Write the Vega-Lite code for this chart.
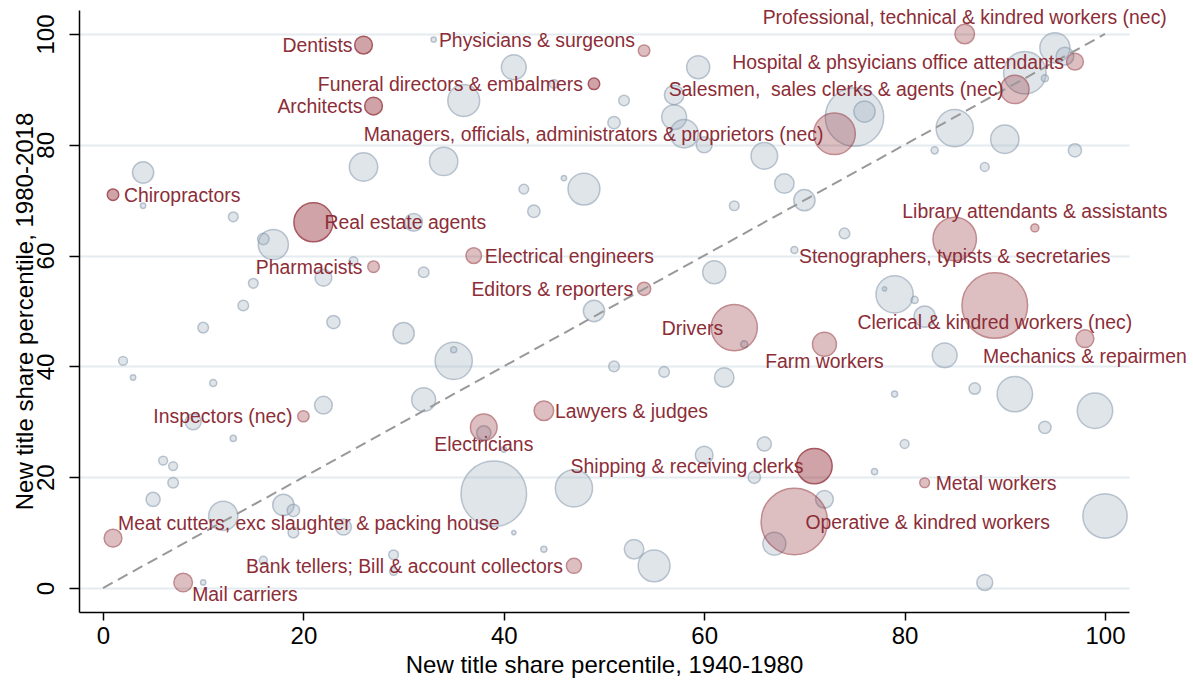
{
  "$schema": "https://vega.github.io/schema/vega-lite/v6.json",
  "autosize": {"type": "none"},
  "padding": {"left": 79, "top": 10, "right": 64, "bottom": 69},
  "width": 1050,
  "height": 602,
  "config": {"view": {"stroke": null}, "font": "Liberation Sans"},
  "datasets": {
    "diag": [{"x": 0, "y": 0}, {"x": 100, "y": 100}],
    "gray": [
      {"x": 33, "y": 99, "w": 9}, {"x": 36, "y": 88, "w": 324}, {"x": 26, "y": 76, "w": 256}, {"x": 34, "y": 77, "w": 256},
      {"x": 4, "y": 75, "w": 144}, {"x": 4, "y": 69, "w": 9}, {"x": 41, "y": 94, "w": 196}, {"x": 45, "y": 91, "w": 25},
      {"x": 52, "y": 88, "w": 36}, {"x": 51, "y": 84, "w": 49}, {"x": 59.4, "y": 94, "w": 169}, {"x": 57, "y": 89, "w": 121},
      {"x": 57, "y": 85, "w": 196}, {"x": 58, "y": 82, "w": 256}, {"x": 60, "y": 80, "w": 81}, {"x": 46, "y": 74, "w": 9},
      {"x": 42, "y": 72, "w": 30}, {"x": 48, "y": 72, "w": 324}, {"x": 43, "y": 68, "w": 49}, {"x": 66, "y": 78, "w": 225},
      {"x": 68, "y": 73, "w": 121}, {"x": 70, "y": 70, "w": 144}, {"x": 63, "y": 69, "w": 30}, {"x": 75, "y": 85, "w": 1089},
      {"x": 76, "y": 86, "w": 144}, {"x": 85, "y": 83, "w": 441}, {"x": 90, "y": 81, "w": 256}, {"x": 83, "y": 79, "w": 16},
      {"x": 97, "y": 79, "w": 56}, {"x": 88, "y": 76, "w": 25}, {"x": 92, "y": 93, "w": 576}, {"x": 95, "y": 97.5, "w": 289},
      {"x": 96, "y": 96, "w": 100}, {"x": 94, "y": 92, "w": 16}, {"x": 13, "y": 67, "w": 30}, {"x": 17, "y": 62, "w": 289},
      {"x": 16, "y": 63, "w": 42}, {"x": 31, "y": 66, "w": 100}, {"x": 25, "y": 59, "w": 25}, {"x": 22, "y": 56, "w": 90},
      {"x": 32, "y": 57, "w": 36}, {"x": 15, "y": 55, "w": 30}, {"x": 14, "y": 51, "w": 36}, {"x": 23, "y": 48, "w": 56},
      {"x": 10, "y": 47, "w": 36}, {"x": 30, "y": 46, "w": 144}, {"x": 35, "y": 41, "w": 441}, {"x": 35, "y": 43, "w": 12},
      {"x": 2, "y": 41, "w": 25}, {"x": 3, "y": 38, "w": 9}, {"x": 11, "y": 37, "w": 16}, {"x": 32, "y": 34, "w": 182},
      {"x": 22, "y": 33, "w": 100}, {"x": 61, "y": 57, "w": 169}, {"x": 69, "y": 61, "w": 16}, {"x": 49, "y": 50, "w": 144},
      {"x": 64, "y": 44, "w": 16}, {"x": 51, "y": 40, "w": 36}, {"x": 56, "y": 39, "w": 36}, {"x": 62, "y": 38, "w": 121},
      {"x": 74, "y": 64, "w": 36}, {"x": 79, "y": 53, "w": 441}, {"x": 78, "y": 54, "w": 6}, {"x": 81, "y": 52, "w": 16},
      {"x": 82, "y": 49, "w": 144}, {"x": 84, "y": 42, "w": 196}, {"x": 79, "y": 35, "w": 12}, {"x": 87, "y": 36, "w": 42},
      {"x": 91, "y": 35, "w": 400}, {"x": 99, "y": 32, "w": 400}, {"x": 9, "y": 30, "w": 81}, {"x": 13, "y": 27, "w": 12},
      {"x": 6, "y": 23, "w": 25}, {"x": 7, "y": 22, "w": 25}, {"x": 7, "y": 19, "w": 36}, {"x": 5, "y": 16, "w": 64},
      {"x": 12, "y": 13, "w": 272}, {"x": 18, "y": 15, "w": 144}, {"x": 19, "y": 14, "w": 49}, {"x": 19, "y": 10, "w": 36},
      {"x": 24, "y": 11, "w": 81}, {"x": 16, "y": 5, "w": 20}, {"x": 29, "y": 6, "w": 30}, {"x": 29, "y": 3, "w": 20},
      {"x": 10, "y": 1, "w": 9}, {"x": 38, "y": 28, "w": 64}, {"x": 40, "y": 25, "w": 9}, {"x": 39, "y": 17, "w": 1369},
      {"x": 41, "y": 10, "w": 6}, {"x": 44, "y": 7, "w": 12}, {"x": 47, "y": 18, "w": 441}, {"x": 53, "y": 7, "w": 121},
      {"x": 55, "y": 4, "w": 324}, {"x": 60, "y": 24, "w": 100}, {"x": 66, "y": 26, "w": 64}, {"x": 65, "y": 20, "w": 49},
      {"x": 72, "y": 16, "w": 100}, {"x": 67, "y": 8, "w": 169}, {"x": 80, "y": 26, "w": 25}, {"x": 77, "y": 21, "w": 12},
      {"x": 94, "y": 29, "w": 49}, {"x": 100, "y": 13, "w": 625}, {"x": 88, "y": 1, "w": 81}
    ],
    "red": [
      {"name": "Dentists", "x": 26, "y": 98, "w": 100, "tone": "dark", "pos": 9},
      {"name": "Physicians & surgeons", "x": 54, "y": 97, "w": 42, "tone": "light", "pos": 10},
      {"name": "Professional, technical & kindred workers (nec)", "x": 86, "y": 100, "w": 121, "tone": "light", "pos": 12},
      {"name": "Hospital & phsyicians office attendants", "x": 97, "y": 95, "w": 90, "tone": "light", "pos": 9},
      {"name": "Funeral directors & embalmers", "x": 49, "y": 91, "w": 42, "tone": "dark", "pos": 9},
      {"name": "Salesmen,\u00a0 sales clerks & agents (nec)", "x": 91, "y": 90, "w": 256, "tone": "light", "pos": 9},
      {"name": "Architects", "x": 27, "y": 87, "w": 100, "tone": "dark", "pos": 9},
      {"name": "Managers, officials, administrators & proprietors (nec)", "x": 73, "y": 82, "w": 552, "tone": "light", "pos": 9},
      {"name": "Chiropractors", "x": 1, "y": 71, "w": 42, "tone": "dark", "pos": 3},
      {"name": "Real estate agents", "x": 21, "y": 66, "w": 484, "tone": "dark", "pos": 3},
      {"name": "Library attendants & assistants", "x": 93, "y": 65, "w": 20, "tone": "light", "pos": 12},
      {"name": "Stenographers, typists & secretaries", "x": 85, "y": 63, "w": 600, "tone": "light", "pos": 6},
      {"name": "Electrical engineers", "x": 37, "y": 60, "w": 77, "tone": "light", "pos": 3},
      {"name": "Pharmacists", "x": 27, "y": 58, "w": 42, "tone": "light", "pos": 9},
      {"name": "Editors & reporters", "x": 54, "y": 54, "w": 56, "tone": "light", "pos": 9},
      {"name": "Clerical & kindred workers (nec)", "x": 89, "y": 51, "w": 1369, "tone": "light", "pos": 6},
      {"name": "Drivers", "x": 63, "y": 47, "w": 676, "tone": "light", "pos": 9},
      {"name": "Mechanics & repairmen", "x": 98, "y": 45, "w": 100, "tone": "light", "pos": 6},
      {"name": "Farm workers", "x": 72, "y": 44, "w": 182, "tone": "light", "pos": 6},
      {"name": "Inspectors (nec)", "x": 20, "y": 31, "w": 40, "tone": "light", "pos": 9},
      {"name": "Lawyers & judges", "x": 44, "y": 32, "w": 121, "tone": "light", "pos": 3},
      {"name": "Electricians", "x": 38, "y": 29, "w": 225, "tone": "light", "pos": 6},
      {"name": "Shipping & receiving clerks", "x": 71, "y": 22, "w": 400, "tone": "dark", "pos": 9},
      {"name": "Metal workers", "x": 82, "y": 19, "w": 30, "tone": "light", "pos": 3},
      {"name": "Operative & kindred workers", "x": 69, "y": 12, "w": 1406, "tone": "light", "pos": 3},
      {"name": "Meat cutters, exc slaughter & packing house", "x": 1, "y": 9, "w": 100, "tone": "light", "pos": 1},
      {"name": "Bank tellers; Bill & account collectors", "x": 47, "y": 4, "w": 72, "tone": "light", "pos": 9},
      {"name": "Mail carriers", "x": 8, "y": 1, "w": 110, "tone": "light", "pos": 4}
    ]
  },
  "encoding": {
    "x": {
      "field": "x", "type": "quantitative",
      "scale": {"domain": [-2.395, 102.395], "nice": false, "zero": false},
      "axis": {
        "title": "New title share percentile, 1940-1980",
        "values": [0, 20, 40, 60, 80, 100], "grid": false,
        "domainColor": "black", "domainWidth": 1.5, "tickColor": "black", "tickWidth": 1.5, "tickSize": 8,
        "labelFontSize": 24, "labelColor": "black", "labelPadding": 4, "labelFont": "Liberation Sans",
        "titleFontSize": 24, "titleFontWeight": "normal", "titleColor": "black", "titlePadding": 5, "titleFont": "Liberation Sans"
      }
    },
    "y": {
      "field": "y", "type": "quantitative",
      "scale": {"domain": [-4.332, 104.332], "nice": false, "zero": false},
      "axis": {
        "title": "New title share percentile, 1980-2018",
        "values": [0, 20, 40, 60, 80, 100], "grid": true, "gridColor": "#e4ecf0", "gridWidth": 1.8,
        "domainColor": "black", "domainWidth": 1.5, "tickColor": "black", "tickWidth": 1.5, "tickSize": 10,
        "labelFontSize": 24, "labelColor": "black", "labelAngle": -90, "labelAlign": "center", "labelBaseline": "bottom", "labelPadding": 11, "labelFont": "Liberation Sans",
        "titleFontSize": 24, "titleFontWeight": "normal", "titleColor": "black", "titlePadding": -3, "titleFont": "Liberation Sans"
      }
    }
  },
  "layer": [
    {
      "data": {"name": "gray"},
      "mark": {"type": "point", "shape": "circle", "filled": true, "fill": "#98a8b9", "fillOpacity": 0.3, "stroke": "#8799ad", "strokeOpacity": 0.55, "strokeWidth": 1.5},
      "encoding": {
        "size": {"field": "w", "type": "quantitative", "scale": {"type": "linear", "domain": [0, 1000], "range": [0, 3141.6], "zero": true}, "legend": null}
      }
    },
    {
      "data": {"name": "red"},
      "mark": {"type": "point", "shape": "circle", "filled": true, "fill": "#8a202a", "fillOpacity": 0.55, "stroke": "#8a202a", "strokeOpacity": 1, "strokeWidth": 1.5},
      "encoding": {
        "size": {"field": "w", "type": "quantitative", "scale": {"type": "linear", "domain": [0, 1000], "range": [0, 3141.6], "zero": true}, "legend": null},
        "opacity": {"field": "tone", "type": "nominal", "scale": {"domain": ["dark", "light"], "range": [0.75, 0.52]}, "legend": null}
      }
    },
    {
      "data": {"name": "diag"},
      "mark": {"type": "line", "color": "#999999", "strokeWidth": 2, "strokeDash": [11, 6]},
      "encoding": {}
    },
    {
      "data": {"name": "red"},
      "transform": [{"filter": "datum.pos == 9"}],
      "mark": {"type": "text", "align": "right", "baseline": "middle", "dx": -11, "dy": 1, "fontSize": 19.4, "color": "#8c2d37", "font": "Liberation Sans"},
      "encoding": {"text": {"field": "name"}}
    },
    {
      "data": {"name": "red"},
      "transform": [{"filter": "datum.pos == 3"}],
      "mark": {"type": "text", "align": "left", "baseline": "middle", "dx": 11, "dy": 1, "fontSize": 19.4, "color": "#8c2d37", "font": "Liberation Sans"},
      "encoding": {"text": {"field": "name"}}
    },
    {
      "data": {"name": "red"},
      "transform": [{"filter": "datum.pos == 12"}],
      "mark": {"type": "text", "align": "center", "baseline": "middle", "dy": -16, "fontSize": 19.4, "color": "#8c2d37", "font": "Liberation Sans"},
      "encoding": {"text": {"field": "name"}}
    },
    {
      "data": {"name": "red"},
      "transform": [{"filter": "datum.pos == 6"}],
      "mark": {"type": "text", "align": "center", "baseline": "middle", "dy": 18, "fontSize": 19.4, "color": "#8c2d37", "font": "Liberation Sans"},
      "encoding": {"text": {"field": "name"}}
    },
    {
      "data": {"name": "red"},
      "transform": [{"filter": "datum.pos == 10"}],
      "mark": {"type": "text", "align": "right", "baseline": "middle", "dx": -9, "dy": -10, "fontSize": 19.4, "color": "#8c2d37", "font": "Liberation Sans"},
      "encoding": {"text": {"field": "name"}}
    },
    {
      "data": {"name": "red"},
      "transform": [{"filter": "datum.pos == 1"}],
      "mark": {"type": "text", "align": "left", "baseline": "middle", "dx": 5, "dy": -14, "fontSize": 19.4, "color": "#8c2d37", "font": "Liberation Sans"},
      "encoding": {"text": {"field": "name"}}
    },
    {
      "data": {"name": "red"},
      "transform": [{"filter": "datum.pos == 4"}],
      "mark": {"type": "text", "align": "left", "baseline": "middle", "dx": 9, "dy": 13, "fontSize": 19.4, "color": "#8c2d37", "font": "Liberation Sans"},
      "encoding": {"text": {"field": "name"}}
    }
  ]
}
